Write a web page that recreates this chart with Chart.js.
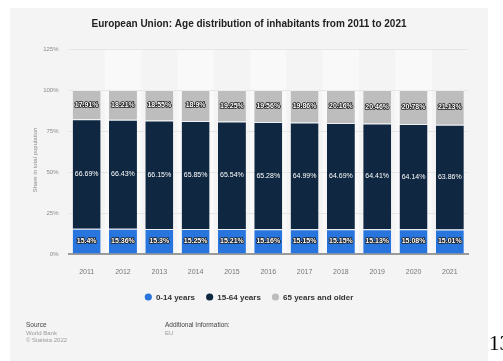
<!DOCTYPE html>
<html>
<head>
<meta charset="utf-8">
<script src="https://cdn.jsdelivr.net/npm/chart.js@4/dist/chart.umd.min.js"></script>
<style>
  html, body { margin: 0; padding: 0; background: #fff; }
  #wrap { width: 503px; height: 361px; position: relative; }
</style>
</head>
<body>
<div id="wrap"><canvas id="graph" width="503" height="361"></canvas></div>
<script>
const years = ["2011", "2012", "2013", "2014", "2015", "2016", "2017", "2018", "2019", "2020", "2021"];
const age0to14 = [15.4, 15.36, 15.3, 15.25, 15.21, 15.16, 15.15, 15.15, 15.13, 15.08, 15.01];
const age15to64 = [66.69, 66.43, 66.15, 65.85, 65.54, 65.28, 64.99, 64.69, 64.41, 64.14, 63.86];
const age65plus = [17.91, 18.21, 18.55, 18.9, 19.25, 19.56, 19.86, 20.16, 20.46, 20.78, 21.13];
const seriesNames = ["0-14 years", "15-64 years", "65 years and older"];
const yTicks = [0, 25, 50, 75, 100, 125];

const colors = ["#2876dd", "#0f2741", "#bdbdbd"];
const FONT = "'Liberation Sans', Arial, sans-serif";

// panel background, alternating column bands
const backdrop = {
  id: "backdrop",
  beforeDraw(chart) {
    const { ctx, chartArea, scales } = chart;
    ctx.save();
    ctx.fillStyle = "#ffffff";
    ctx.fillRect(0, 0, chart.width, chart.height);
    ctx.fillStyle = "#f4f4f4";
    ctx.fillRect(10, 8, 478, chart.height - 8);
    const step = scales.x.getPixelForValue(1) - scales.x.getPixelForValue(0);
    ctx.fillStyle = "#f9f9f9";
    years.forEach((y, i) => {
      if (i % 2 === 1) {
        const cx = scales.x.getPixelForValue(i);
        ctx.fillRect(cx - step / 2, chartArea.top, step, chartArea.bottom - chartArea.top);
      }
    });
    ctx.restore();
  }
};

// value labels inside each segment
const segmentLabels = {
  id: "segmentLabels",
  afterDatasetsDraw(chart) {
    const { ctx } = chart;
    ctx.save();
    ctx.textAlign = "center";
    ctx.textBaseline = "middle";
    chart.data.datasets.forEach((ds, di) => {
      const meta = chart.getDatasetMeta(di);
      meta.data.forEach((bar, i) => {
        const txt = ds.data[i] + "%";
        const y = (bar.y + bar.base) / 2;
        if (di === 1) {
          ctx.font = "7px " + FONT;
          ctx.fillStyle = "#ffffff";
          ctx.fillText(txt, bar.x, y);
        } else {
          ctx.font = "bold 7px " + FONT;
          ctx.lineWidth = 1.6;
          ctx.lineJoin = "round";
          ctx.strokeStyle = "#1a1a1a";
          ctx.strokeText(txt, bar.x, y);
          ctx.fillStyle = "#ffffff";
          ctx.fillText(txt, bar.x, y);
        }
      });
    });
    ctx.restore();
  }
};

// title, axis title, legend and footer notes
const texts = {
  id: "texts",
  afterDraw(chart) {
    const { ctx } = chart;
    ctx.save();
    ctx.textBaseline = "alphabetic";
    ctx.textAlign = "center";
    ctx.fillStyle = "#222";
    ctx.font = "bold 10px " + FONT;
    ctx.fillText("European Union: Age distribution of inhabitants from 2011 to 2021", 249, 27);

    // rotated y axis title
    ctx.save();
    ctx.translate(35, 160);
    ctx.rotate(-Math.PI / 2);
    ctx.textBaseline = "middle";
    ctx.font = "6px " + FONT;
    ctx.fillStyle = "#8a8a8a";
    ctx.fillText("Share in total population", 0, 0);
    ctx.restore();

    // legend
    ctx.font = "bold 8px " + FONT;
    ctx.textAlign = "left";
    const items = chart.data.datasets.map(d => ({ label: d.label, color: d.backgroundColor }));
    const gap = 11, r = 3.6;
    const widths = items.map(it => 2 * r + 4 + ctx.measureText(it.label).width);
    const total = widths.reduce((a, b) => a + b, 0) + gap * (items.length - 1);
    let x = 249 - total / 2;
    const ly = 297;
    items.forEach((it, i) => {
      ctx.beginPath();
      ctx.arc(x + r, ly, r, 0, Math.PI * 2);
      ctx.fillStyle = it.color;
      ctx.fill();
      ctx.fillStyle = "#333";
      ctx.fillText(it.label, x + 2 * r + 4, ly + 3);
      x += widths[i] + gap;
    });

    // footer
    ctx.font = "6.5px " + FONT;
    ctx.fillStyle = "#444";
    ctx.fillText("Source", 26, 327);
    ctx.fillText("Additional Information:", 165, 327);
    ctx.font = "6px " + FONT;
    ctx.fillStyle = "#9a9a9a";
    ctx.fillText("World Bank", 26, 335);
    ctx.fillText("\u00a9 Statista 2022", 26, 342);
    ctx.fillText("EU", 165, 335);

    ctx.font = "21px 'Liberation Serif', serif";
    ctx.fillStyle = "#000";
    ctx.fillText("13", 489, 350);
    ctx.restore();
  }
};

const ctx = document.getElementById("graph").getContext("2d");
const chart = new Chart(ctx, {
  type: "bar",
  data: {
    labels: years,
    datasets: [
      { label: seriesNames[0], data: age0to14, backgroundColor: colors[0] },
      { label: seriesNames[1], data: age15to64, backgroundColor: colors[1] },
      { label: seriesNames[2], data: age65plus, backgroundColor: colors[2] }
    ].map(d => Object.assign(d, {
      categoryPercentage: 1,
      barPercentage: 0.77,
      borderWidth: { top: 1, left: 0, right: 0, bottom: 0 },
      borderColor: "rgba(235,240,246,0.8)",
      borderSkipped: false
    }))
  },
  options: {
    responsive: false,
    animation: false,
    events: [],
    layout: { padding: { left: 10, right: 35, top: 49, bottom: 87 } },
    plugins: {
      legend: { display: false },
      title: { display: false },
      tooltip: { enabled: false }
    },
    scales: {
      x: {
        stacked: true,
        grid: { display: false },
        border: { display: true, color: "#9a9a9a", width: 2 },
        ticks: { color: "#777", font: { family: FONT, size: 7 }, padding: 6 },
        afterFit(scale) { scale.height = 20; }
      },
      y: {
        stacked: true,
        min: 0,
        max: 125,
        afterBuildTicks(scale) { scale.ticks = yTicks.map(v => ({ value: v })); },
        grid: { color: "#e6e6e6", lineWidth: 1, drawTicks: false },
        border: { display: false },
        ticks: {
          color: "#8a8a8a",
          font: { family: FONT, size: 6 },
          padding: 10,
          callback: v => v + "%"
        },
        afterFit(scale) { scale.width = 58.5; }
      }
    }
  },
  plugins: [backdrop, segmentLabels, texts]
});
</script>
</body>
</html>
